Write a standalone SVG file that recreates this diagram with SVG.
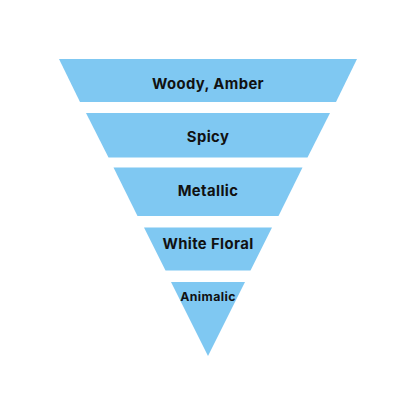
<svg xmlns="http://www.w3.org/2000/svg" width="416" height="416" viewBox="0 0 416 416">
<style>
.layer{fill:#7fc8f2;}
.lbl{font-family:Inter,"Noto Sans",sans-serif;font-weight:700;fill:#111111;text-anchor:middle;letter-spacing:0.4px;}
</style>
<rect width="416" height="416" fill="#ffffff"/>
<g id="woody-amber">
<polygon class="layer" points="59,59 357,59 336,102 80,102"/>
<text class="lbl" x="208" y="88.5" font-size="14.8">Woody, Amber</text>
</g>
<g id="spicy">
<polygon class="layer" points="86,113 330,113 307.5,157.5 108.5,157.5"/>
<text class="lbl" x="208" y="142.3" font-size="14.8">Spicy</text>
</g>
<g id="metallic">
<polygon class="layer" points="113.5,167.5 302.5,167.5 278.5,216 137.5,216"/>
<text class="lbl" x="208" y="196" font-size="14.8">Metallic</text>
</g>
<g id="white-floral">
<polygon class="layer" points="144,227.5 272,227.5 250.5,270.5 165.5,270.5"/>
<text class="lbl" x="208" y="249.3" font-size="14.8">White Floral</text>
</g>
<g id="animalic">
<polygon class="layer" points="171,282 245,282 208,356"/>
<text class="lbl" x="208" y="300.7" font-size="12.3">Animalic</text>
</g>
<g id="connectors"></g>
</svg>
